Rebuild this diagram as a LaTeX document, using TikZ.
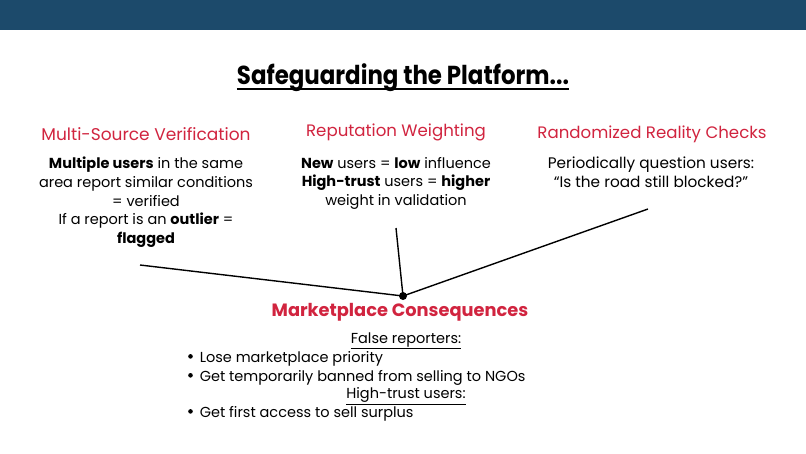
\documentclass[tikz,border=0pt]{standalone}
\usepackage{fontspec}
\setmainfont{Poppins}
\newfontfamily\titlefont{Poppins}[FakeStretch=0.88]
\definecolor{hdr}{HTML}{1C4A6B}
\definecolor{accent}{HTML}{D1243F}
\newcommand{\mybul}{\raisebox{0.5ex}{\tikz\fill (0,0) circle (2.3pt);}\hspace{7pt}}
\begin{document}
\begin{tikzpicture}[x=1pt,y=-1pt,
  heading/.style={text=accent,inner sep=0pt,anchor=center},
  body/.style={text=black,font=\fontsize{14.5}{18.6}\selectfont,align=center,inner sep=0pt,anchor=north},
  link/.style={line width=1.4pt,black},
  listtext/.style={font=\fontsize{14.5}{18.6}\selectfont,inner sep=0pt,anchor=west}]
\useasboundingbox (0,0) rectangle (806,453);
\fill[white] (0,0) rectangle (806,453);
\fill[hdr] (0,0) rectangle (806,30);
\node[inner sep=0pt,anchor=base] (title) at (403,84) {\titlefont\bfseries\fontsize{26}{30}\selectfont Safeguarding the Platform...};
\draw[line width=1.5pt] ([yshift=-5pt]title.base west) -- ([yshift=-5pt]title.base east);
\node[heading,font=\fontsize{17}{20}\selectfont] (h1) at (146,134) {Multi-Source Verification};
\node[heading,font=\fontsize{16.6}{20}\selectfont] (h2) at (396,132) {Reputation Weighting};
\node[heading,font=\fontsize{16.6}{20}\selectfont] (h3) at (652,134) {Randomized Reality Checks};
\node[body] (b1) at (146,157) {\textbf{Multiple users} in the same\\area report similar conditions\\= verified\\If a report is an \textbf{outlier} =\\\textbf{flagged}};
\node[body] (b2) at (396,157) {\textbf{New} users = \textbf{low} influence\\\textbf{High-trust} users = \textbf{higher}\\weight in validation};
\node[body,font=\fontsize{15.3}{18.6}\selectfont] (b3) at (651,157) {Periodically question users:\\``Is the road still blocked?''};
\coordinate (s1) at (140,265);
\coordinate (s2) at (396,228);
\coordinate (s3) at (648,209);
\node[circle,fill=black,inner sep=0pt,minimum size=8pt] (hub) at (403,296) {};
\draw[link] (s1) -- (hub.center);
\draw[link] (s2) -- (hub.center);
\draw[link] (s3) -- (hub.center);
\node[text=accent,font=\bfseries\fontsize{17.8}{20}\selectfont,inner sep=0pt] (mc) at (400,312) {Marketplace Consequences};
\node[font=\fontsize{14.5}{18.6}\selectfont,inner sep=0pt] (fr) at (406,341) {\underline{False reporters:}};
\node[listtext] (l1) at (188,359) {\mybul Lose marketplace priority};
\node[listtext] (l2) at (188,378) {\mybul Get temporarily banned from selling to NGOs};
\node[font=\fontsize{14.5}{18.6}\selectfont,inner sep=0pt] (ht) at (406,396) {\underline{High-trust users:}};
\node[listtext] (l3) at (188,414) {\mybul Get first access to sell surplus};
\end{tikzpicture}
\end{document}
